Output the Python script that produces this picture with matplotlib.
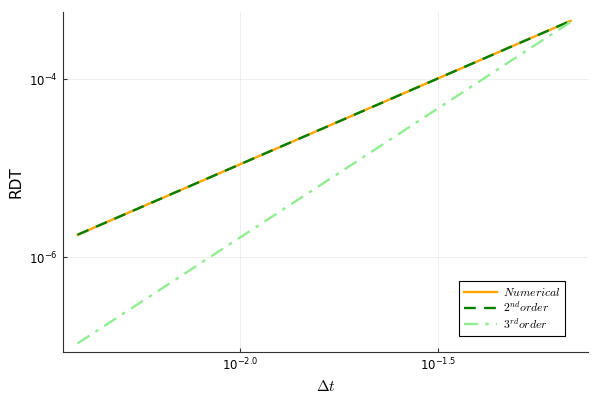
import numpy as np
import matplotlib
matplotlib.use('Agg')
from matplotlib import pyplot as plt
from matplotlib.ticker import FixedLocator, NullLocator, FixedFormatter

# step sizes and errors
dt = [0.00389, 0.00778, 0.01556, 0.03112, 0.0684]
err_num = [1.78e-6, 6.78e-6, 2.58e-5, 9.84e-5, 4.50e-4]
err_2nd = [1.78e-6, 6.78e-6, 2.58e-5, 9.84e-5, 4.50e-4]
err_3rd = [1.07e-7, 8.0e-7, 5.97e-6, 4.46e-5, 4.38e-4]

xticks = [10**-2.0, 10**-1.5]
xticklabels = [r'$10^{-2.0}$', r'$10^{-1.5}$']
yticks = [1e-6, 1e-4]
yticklabels = [r'$10^{-6}$', r'$10^{-4}$']

fig = plt.figure(figsize=(6, 4), dpi=100)
ax = fig.add_axes([0.105, 0.12, 0.875, 0.85])

ax.plot(dt, err_num, color='#FFA500', lw=1.7, label=r'$Numerical$')
ax.plot(dt, err_2nd, color='#008000', lw=1.7, ls=(0, (5, 3.5)), label=r'$2^{nd}order$')
ax.plot(dt, err_3rd, color='#90EE90', lw=1.7, ls=(0, (6, 3, 1.5, 3)), label=r'$3^{rd}order$')

ax.set_xscale('log')
ax.set_yscale('log')
ax.set_xlim(10**-2.447, 10**-1.121)
ax.set_ylim(10**-7.067, 10**-3.247)

ax.xaxis.set_major_locator(FixedLocator(xticks))
ax.xaxis.set_major_formatter(FixedFormatter(xticklabels))
ax.xaxis.set_minor_locator(NullLocator())
ax.yaxis.set_major_locator(FixedLocator(yticks))
ax.yaxis.set_major_formatter(FixedFormatter(yticklabels))
ax.yaxis.set_minor_locator(NullLocator())
ax.tick_params(direction='in', length=3, labelsize=8.5, color='#333333')

ax.grid(True, color='#000000', alpha=0.08, lw=0.6)
for s in ['top', 'right']:
    ax.spines[s].set_visible(False)
for s in ['left', 'bottom']:
    ax.spines[s].set_color('#333333')

ax.set_xlabel(r'$\Delta t$', fontsize=11, math_fontfamily='cm')
ax.set_ylabel('RDT', fontsize=11)

leg = ax.legend(loc='lower right', prop={'size': 8.5, 'math_fontfamily': 'cm'},
                fancybox=False, edgecolor='black', framealpha=1,
                handlelength=2.8, borderpad=0.4, labelspacing=0.1,
                handletextpad=0.5, bbox_to_anchor=(0.968, 0.03))
leg.get_frame().set_linewidth(0.8)

plt.savefig('out.png', dpi=100)
